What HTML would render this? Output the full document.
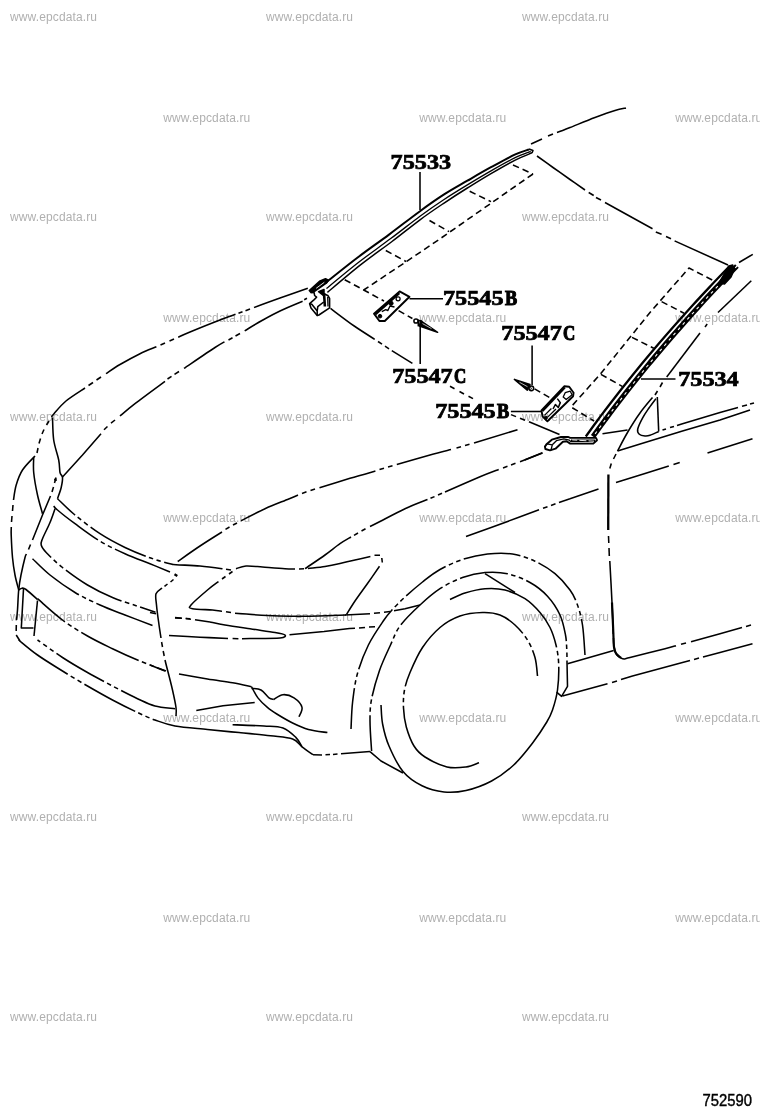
<!DOCTYPE html>
<html><head><meta charset="utf-8"><title>752590</title>
<style>
html,body{margin:0;padding:0;background:#fff;}
body{width:760px;height:1112px;overflow:hidden;position:relative;font-family:"Liberation Sans",sans-serif;}
svg{position:absolute;left:0;top:0;display:block;}
svg{filter:grayscale(1);}
.wm text{font-family:"Liberation Sans",sans-serif;font-size:12px;fill:#b0b0b0;}
.lb text{font-family:"Liberation Serif",serif;font-weight:bold;font-size:20px;fill:#000;stroke:#000;stroke-width:0.7;}
.lb text.lt{stroke-width:1.1;}
.dr path{fill:none;stroke:#000;stroke-width:1.55;stroke-linecap:butt;stroke-linejoin:round;}
.dr path.ph{stroke-dasharray:44 4 5 4;}
.dr path.p2{stroke-dasharray:50 4 5 3 5 4;}
.dr path.da{stroke-dasharray:6.5 4;}
.dr path.tk{stroke-width:2.3;}
.dr path.tn{stroke-width:1.3;}
.dr path.fw{fill:#fff;}
.dr path.fb{fill:#000;}
</style></head><body>
<svg width="760" height="1112" viewBox="0 0 760 1112">
<g class="wm">
<text x="10" y="20.9" textLength="87" lengthAdjust="spacing">www.epcdata.ru</text>
<text x="266" y="20.9" textLength="87" lengthAdjust="spacing">www.epcdata.ru</text>
<text x="522" y="20.9" textLength="87" lengthAdjust="spacing">www.epcdata.ru</text>
<text x="163.2" y="122.2" textLength="87" lengthAdjust="spacing">www.epcdata.ru</text>
<text x="419.2" y="122.2" textLength="87" lengthAdjust="spacing">www.epcdata.ru</text>
<text x="675.2" y="122.2" textLength="87" lengthAdjust="spacing">www.epcdata.ru</text>
<text x="10" y="220.9" textLength="87" lengthAdjust="spacing">www.epcdata.ru</text>
<text x="266" y="220.9" textLength="87" lengthAdjust="spacing">www.epcdata.ru</text>
<text x="522" y="220.9" textLength="87" lengthAdjust="spacing">www.epcdata.ru</text>
<text x="163.2" y="322.2" textLength="87" lengthAdjust="spacing">www.epcdata.ru</text>
<text x="419.2" y="322.2" textLength="87" lengthAdjust="spacing">www.epcdata.ru</text>
<text x="675.2" y="322.2" textLength="87" lengthAdjust="spacing">www.epcdata.ru</text>
<text x="10" y="420.9" textLength="87" lengthAdjust="spacing">www.epcdata.ru</text>
<text x="266" y="420.9" textLength="87" lengthAdjust="spacing">www.epcdata.ru</text>
<text x="522" y="420.9" textLength="87" lengthAdjust="spacing">www.epcdata.ru</text>
<text x="163.2" y="522.2" textLength="87" lengthAdjust="spacing">www.epcdata.ru</text>
<text x="419.2" y="522.2" textLength="87" lengthAdjust="spacing">www.epcdata.ru</text>
<text x="675.2" y="522.2" textLength="87" lengthAdjust="spacing">www.epcdata.ru</text>
<text x="10" y="620.9" textLength="87" lengthAdjust="spacing">www.epcdata.ru</text>
<text x="266" y="620.9" textLength="87" lengthAdjust="spacing">www.epcdata.ru</text>
<text x="522" y="620.9" textLength="87" lengthAdjust="spacing">www.epcdata.ru</text>
<text x="163.2" y="722.2" textLength="87" lengthAdjust="spacing">www.epcdata.ru</text>
<text x="419.2" y="722.2" textLength="87" lengthAdjust="spacing">www.epcdata.ru</text>
<text x="675.2" y="722.2" textLength="87" lengthAdjust="spacing">www.epcdata.ru</text>
<text x="10" y="820.9" textLength="87" lengthAdjust="spacing">www.epcdata.ru</text>
<text x="266" y="820.9" textLength="87" lengthAdjust="spacing">www.epcdata.ru</text>
<text x="522" y="820.9" textLength="87" lengthAdjust="spacing">www.epcdata.ru</text>
<text x="163.2" y="922.2" textLength="87" lengthAdjust="spacing">www.epcdata.ru</text>
<text x="419.2" y="922.2" textLength="87" lengthAdjust="spacing">www.epcdata.ru</text>
<text x="675.2" y="922.2" textLength="87" lengthAdjust="spacing">www.epcdata.ru</text>
<text x="10" y="1020.9" textLength="87" lengthAdjust="spacing">www.epcdata.ru</text>
<text x="266" y="1020.9" textLength="87" lengthAdjust="spacing">www.epcdata.ru</text>
<text x="522" y="1020.9" textLength="87" lengthAdjust="spacing">www.epcdata.ru</text>
</g>
<g class="dr">
<path style="stroke-width:2" d="M325.0,283.3C330.3,279.1 346.3,266.1 357.0,258.0C367.7,249.9 378.5,242.4 389.0,234.6C399.5,226.8 410.9,217.8 420.0,211.2C429.1,204.5 435.8,199.8 443.7,194.7C451.6,189.6 459.5,185.3 467.4,180.7C475.3,176.1 483.1,171.5 491.0,167.2C498.9,162.9 508.4,157.6 514.7,154.7C521.0,151.8 526.6,150.4 529.0,149.5"/>
<path style="stroke-width:1.5" d="M327.4,292.4C332.9,287.8 349.7,273.4 360.5,264.9C371.3,256.4 382.1,249.0 392.0,241.5C401.9,234.0 411.4,226.2 420.0,219.8C428.6,213.4 435.8,208.6 443.7,203.3C451.6,198.0 459.5,192.9 467.4,188.0C475.3,183.1 483.1,178.2 491.0,173.6C498.9,169.0 507.9,163.8 514.7,160.3C521.5,156.8 529.1,154.1 532.0,152.8"/>
<path style="stroke-width:1.3" d="M326.4,288.6C331.8,284.1 348.3,270.3 359.0,262.0C369.8,253.7 380.6,246.2 390.7,238.6C400.9,231.0 411.2,222.7 420.0,216.2C428.8,209.7 435.8,204.9 443.7,199.7C451.6,194.5 459.5,189.7 467.4,184.9C475.3,180.1 483.1,175.4 491.0,170.9C498.9,166.4 508.1,161.2 514.7,157.9C521.3,154.7 528.1,152.5 530.7,151.4"/>
<path d="M529.0,149.0L533.0,150.5L532.0,153.0"/>
<path d="M420.0,172.0L420.0,210.0"/>
<path d="M531.0,144.0L542.0,139.0"/>
<path d="M548.0,136.0L553.0,134.0"/>
<path d="M557.0,132.5C559.2,131.7 563.7,130.0 570.0,127.5C576.3,125.0 587.5,120.3 595.0,117.5C602.5,114.7 609.8,112.1 615.0,110.5C620.2,108.9 624.2,108.4 626.0,108.0"/>
<path d="M537.0,156.0C539.7,157.9 547.5,163.6 553.0,167.5C558.5,171.4 564.7,175.8 570.0,179.5C575.3,183.2 582.5,188.2 585.0,190.0"/>
<path d="M588.7,192.5L593.7,195.5"/>
<path d="M596.0,197.5L601.0,200.0"/>
<path d="M605.0,202.5L652.5,228.7"/>
<path d="M655.8,232.0L661.6,234.3"/>
<path d="M666.0,236.5L671.0,238.7"/>
<path d="M674.6,240.9L728.0,265.0"/>
<path class="da" d="M513.0,165.0L533.0,174.0"/>
<path class="da" d="M533.0,174.0L439.0,239.5L406.3,261.6L363.7,290.0"/>
<path class="da" d="M469.7,191.3L491.0,201.6"/>
<path class="da" d="M429.5,220.5L449.0,231.6"/>
<path class="da" d="M385.8,250.5L406.3,261.6"/>
<path class="da" d="M344.7,279.7L363.7,290.0L384.0,301.0"/>
<path style="stroke-width:2.3" d="M729.7,266.0C726.6,269.2 717.6,278.5 711.5,285.0C705.4,291.5 699.0,298.3 692.9,305.0C686.8,311.7 680.9,318.3 675.0,325.0C669.1,331.7 663.3,338.3 657.6,345.0C651.9,351.7 646.3,358.3 640.8,365.0C635.3,371.7 630.0,378.3 624.7,385.0C619.4,391.7 613.6,399.2 609.1,405.0C604.6,410.8 601.7,414.8 597.8,420.0C593.9,425.2 587.8,433.8 585.8,436.5"/>
<path style="stroke-width:5.1" d="M736.9,266.0C733.8,269.2 724.8,278.5 718.7,285.0C712.6,291.5 706.2,298.3 700.1,305.0C694.0,311.7 688.1,318.3 682.2,325.0C676.3,331.7 670.5,338.3 664.8,345.0C659.1,351.7 653.5,358.3 648.0,365.0C642.5,371.7 637.2,378.3 631.9,385.0C626.6,391.7 620.8,399.2 616.3,405.0C611.8,410.8 608.9,414.8 605.0,420.0C601.1,425.2 595.0,433.8 593.0,436.5"/>
<path style="stroke:#fff;stroke-width:1.1;stroke-dasharray:3 4" d="M737.1,266.0C734.0,269.2 725.0,278.5 718.9,285.0C712.8,291.5 706.4,298.3 700.3,305.0C694.2,311.7 688.3,318.3 682.4,325.0C676.5,331.7 670.7,338.3 665.0,345.0C659.3,351.7 653.7,358.3 648.2,365.0C642.7,371.7 637.4,378.3 632.1,385.0C626.8,391.7 621.0,399.2 616.5,405.0C612.0,410.8 609.1,414.8 605.2,420.0C601.3,425.2 595.2,433.8 593.2,436.5"/>
<path class="fb" d="M729.0,266.0L732.7,265.0L734.0,270.0L731.0,277.0L724.5,284.0L719.0,283.0Z"/>
<path d="M641.0,379.0L675.5,379.0"/>
<path class="da" d="M712.2,280.0L689.0,268.0L650.0,312.5L600.6,373.8L571.0,407.0L594.0,421.0"/>
<path class="da" d="M661.6,301.6L684.0,313.2"/>
<path class="da" d="M632.0,337.4L653.7,348.2"/>
<path class="da" d="M600.9,374.3L622.6,386.6"/>
<path style="stroke-width:1.9;fill:#fff" d="M544.9,446.6L546.8,443.9L551.8,439.7L561,437L568.4,437L570.2,437.9L596,437.9L597,440.2L593.3,443.6L570.2,443.6L566.6,441.3L562.9,441.8L555.5,448.7L550,450.4L545.4,449Z"/>
<path class="tn" d="M546.8,443.9L552.3,444.8L551.0,450.0"/>
<path class="tn" d="M552.3,444.8L556.4,440.7L563.8,438.8L569.3,440.2L571.0,441.8"/>
<path style="stroke-width:2.6" d="M571,440.8L595,440.8"/>
<path style="stroke:#fff;stroke-width:0.9;stroke-dasharray:5 2.2 7 2.2 6 20" d="M572.2,439.9L594,441.2"/>
<path d="M739.0,262.5L752.8,254.3"/>
<path d="M751.3,280.7L718.0,312.5"/>
<path d="M707.2,324.0L705.0,327.0"/>
<path d="M700.0,333.0L666.7,377.0"/>
<path d="M662.5,382.5L660.0,387.0"/>
<path d="M657.5,391.0L655.0,395.0"/>
<path d="M652.5,397.5C650.4,400.1 644.2,407.2 640.0,413.0C635.8,418.8 631.2,426.2 627.5,432.5C623.8,438.8 619.2,447.9 617.5,451.0"/>
<path d="M616.0,454.0L613.5,459.0"/>
<path d="M611.3,463.5L609.8,468.5"/>
<path class="tk" d="M608.4,474.5L608.2,530.0"/>
<path d="M608.5,536.0L608.8,543.0"/>
<path d="M609.0,548.0L609.3,556.0"/>
<path d="M609.8,561.0C610.2,567.9 611.5,591.8 612.0,602.5C612.5,613.2 612.8,621.2 613.0,625.0"/>
<path d="M613.1,629.0L613.3,634.0"/>
<path style="stroke-width:2.2" d="M612.0,602.5C612.2,606.2 612.7,618.8 613.0,625.0C613.3,631.2 613.4,636.3 613.6,640.0C613.8,643.7 613.6,644.7 614.0,647.0C614.4,649.3 615.0,651.9 616.2,653.7C617.4,655.5 620.2,657.1 621.0,657.8"/>
<path d="M613.5,638.0C613.5,639.2 613.4,642.4 613.8,645.0C614.2,647.6 614.5,651.4 616.0,653.7C617.5,656.0 620.2,658.1 622.5,658.7C624.8,659.3 622.9,659.2 630.0,657.5C637.1,655.8 657.3,650.7 665.0,648.7C672.7,646.7 674.2,646.2 676.0,645.7"/>
<path d="M681.0,644.3L686.0,643.0"/>
<path d="M691.0,641.7L720.0,633.7L742.0,627.6"/>
<path d="M746.0,626.4L751.0,625.0"/>
<path d="M657.3,397.0L658.7,431.5"/>
<path d="M658.7,431.5C657.2,432.1 652.3,434.6 650.0,435.3C647.7,436.1 646.8,436.2 645.0,436.0C643.2,435.8 640.5,435.4 639.3,434.3C638.1,433.2 637.1,432.0 637.7,429.2C638.3,426.4 640.9,421.1 642.8,417.6C644.7,414.1 646.8,411.2 649.0,408.0C651.2,404.8 654.8,400.2 656.0,398.6"/>
<path d="M617.5,451.0L645.0,442.5L682.5,431.0L720.0,420.0L750.0,410.0"/>
<path d="M662.5,430.0L666.0,428.9"/>
<path d="M670.0,427.6L674.0,426.4"/>
<path d="M677.0,425.5L682.5,423.7L720.0,412.5L738.0,407.5"/>
<path d="M742.0,406.3L747.0,404.9"/>
<path d="M750.0,404.0L754.0,403.0"/>
<path d="M602.5,433.7L627.5,430.0"/>
<path d="M524.7,460.0L542.4,452.8"/>
<path d="M570.0,498.8L598.5,489.0"/>
<path d="M616.0,482.6L645.0,473.5L668.8,466.0"/>
<path d="M673.5,464.4L679.7,462.4"/>
<path d="M707.5,453.0L752.5,438.7"/>
<path d="M567.5,663.7L613.7,650.5"/>
<path d="M562.5,696.0L607.5,683.7"/>
<path d="M612.0,682.4L617.0,681.0"/>
<path d="M621.0,679.5L632.5,676.0L682.5,662.5L690.0,660.5"/>
<path d="M694.0,659.4L699.0,658.0"/>
<path d="M703.0,657.0L720.0,652.5L752.5,643.7"/>
<path class="fb" d="M309.3,290.6L319.5,281.3L325.5,278.8L328.3,280.3L326.3,283.2L314.2,291.5L311.0,292.6Z"/>
<path style="stroke:#fff;stroke-width:0.9" d="M316.2,288.3L324.3,282.3"/>
<path d="M311.0,292.5L314.2,292.8L314.6,295.5L316.6,297.2L314.2,299.6L309.6,303.7L311.0,307.9L317.2,315.6L318.9,315.0L329.6,307.9L329.6,298.4L327.8,295.5L323.7,293.7"/>
<path d="M309.6,303.7L311.8,304.3L317.2,310.9L317.2,315.6"/>
<path d="M317.2,310.9L317.8,306.7L323.7,302.0"/>
<path style="stroke-width:2.6" d="M324,293L324.9,306.5"/>
<path class="tn" d="M327.7,297.0L328.0,306.5"/>
<path class="fb" d="M318.6,291.6L324.0,296.0L324.0,289.5Z"/>
<path style="stroke-width:1.9" d="M374,313.6L399.6,291.4L409.5,296.8L384.8,321L379.4,321Z"/>
<path style="stroke-width:2.4" d="M375.3,314.3L399.3,293"/>
<circle cx="398.1" cy="298.8" r="2" style="fill:none;stroke:#000;stroke-width:1.3"/>
<circle cx="391" cy="303.3" r="2.1" style="fill:#000;stroke:#000;stroke-width:1"/>
<path class="tn" d="M381.8,311.6L385.8,309.6L387.8,310.6L390.0,306.0L394.5,307.0"/>
<circle cx="380" cy="316.2" r="1.8" style="fill:#000;stroke:#000;stroke-width:1"/>
<path d="M409.5,298.8L443.0,298.8"/>
<path class="da" d="M398.6,310.6L412.4,318.5"/>
<circle cx="416" cy="321" r="2.1" style="fill:#fff;stroke:#000;stroke-width:1.5"/>
<path d="M418.3,320.3L421.5,321.3L421.3,325.3L418.3,325.8Z"/>
<path class="fb" d="M420.5,320.6L437.6,332.3L419.5,326.0Z"/>
<path style="stroke:#fff;stroke-width:0.7" d="M422.5,323.6L431.5,328.6"/>
<path d="M420.2,326.0L420.2,364.0"/>
<path class="fb" d="M514.4,379.4L530.0,384.6L527.3,390.2Z"/>
<path style="stroke:#fff;stroke-width:0.7" d="M519.5,382.3L527.5,386.7"/>
<circle cx="531.3" cy="388.3" r="2.4" style="fill:#fff;stroke:#000;stroke-width:1.5"/>
<circle cx="530.6" cy="388.5" r="0.9" style="fill:none;stroke:#000;stroke-width:0.8"/>
<path d="M532.1,345.5L532.1,385.2"/>
<path class="da" d="M534.6,388.8L551.4,398.6"/>
<path style="stroke-width:1.9" d="M541.5,410.5L564.2,386.3L569.2,386.8L573.6,392.7L573.1,396.2L547.4,421.3L542.5,416.4Z"/>
<path style="stroke-width:2.2" d="M542.5,411L564.8,387.5"/>
<path class="tn" d="M565.2,392.7L570.2,391.2L572.1,394.7L566.2,399.6L563.2,397.1Z"/>
<path d="M557.3,398.6L560.3,402.6L558.3,407.5L555.4,404.5L553.0,409.0"/>
<path class="tn" d="M544.5,415.4L551.4,408.5"/>
<path class="tn" d="M547.4,417.4L556.0,409.0"/>
<circle cx="545.8" cy="417.8" r="1.6" style="fill:#000;stroke:#000;stroke-width:1"/>
<path d="M510.9,411.5L541.5,411.5"/>
<path d="M330.5,308.4C334.4,311.3 346.8,320.9 354.2,326.0C361.6,331.1 371.3,337.1 374.7,339.3"/>
<path d="M378.0,341.5L382.0,344.2"/>
<path d="M385.0,346.2L389.0,348.8"/>
<path d="M391.8,350.6L412.4,363.3"/>
<path d="M450.0,386.3L454.5,388.7"/>
<path d="M459.5,391.5L464.0,394.0"/>
<path d="M468.5,396.3L473.0,398.6"/>
<path d="M511.0,414.6L516.0,416.6"/>
<path d="M520.0,418.2L525.0,420.2"/>
<path d="M529.0,421.8L559.5,434.5"/>
<path d="M307.8,288.2C303.2,289.8 289.0,294.8 280.0,298.0C271.0,301.2 258.3,305.9 254.0,307.5"/>
<path d="M250.0,309.0L245.5,310.7"/>
<path d="M242.5,311.8L238.5,313.3"/>
<path d="M235.5,314.3C232.9,315.2 227.6,317.1 220.0,320.0C212.4,322.9 197.0,329.1 190.0,332.0C183.0,334.9 180.2,336.3 178.2,337.2"/>
<path d="M174.0,339.0L169.5,341.0"/>
<path d="M165.0,343.0L160.5,345.0"/>
<path d="M156.4,346.7C153.7,347.9 146.1,350.7 140.0,353.7C133.9,356.7 125.7,361.2 120.0,364.5C114.3,367.8 108.3,372.2 106.0,373.7"/>
<path d="M101.0,377.0L96.5,380.0"/>
<path d="M93.0,382.5L88.5,385.5"/>
<path d="M85.0,388.0C81.8,390.2 71.2,396.7 66.0,401.0C60.8,405.3 56.4,411.0 54.0,413.7C51.6,416.4 51.9,416.4 51.5,417.0"/>
<path d="M49.0,421.0L46.5,425.0"/>
<path d="M44.0,429.5L42.0,434.0"/>
<path d="M40.5,438.5L39.0,443.5"/>
<path d="M38.0,448.0L37.0,453.0"/>
<path d="M307.0,298.3L304.2,299.7"/>
<path d="M302.6,301.3C298.8,302.9 286.8,307.8 280.0,311.0C273.2,314.2 267.9,317.2 262.0,320.5C256.1,323.8 247.6,329.1 244.7,330.8"/>
<path d="M240.0,333.5L235.5,336.0"/>
<path d="M232.5,337.8L228.5,340.0"/>
<path d="M224.5,341.8C222.9,342.8 221.8,343.1 215.0,347.5C208.2,351.9 189.2,364.9 184.0,368.4"/>
<path d="M179.0,371.5L174.5,374.3"/>
<path d="M171.5,376.3L167.5,379.0"/>
<path d="M165.0,381.4C160.0,385.1 142.5,397.9 135.0,403.7C127.5,409.5 122.5,413.9 120.0,416.0"/>
<path d="M115.0,420.0L111.0,423.2"/>
<path d="M107.5,426.5L104.0,429.8"/>
<path d="M101.0,433.7L82.5,455.0L62.5,477.0"/>
<path d="M52.5,417.5C52.7,421.2 52.7,432.9 53.7,440.0C54.7,447.1 57.7,454.6 58.7,460.0C59.8,465.4 59.4,469.6 60.0,472.5C60.6,475.4 62.3,475.0 62.5,477.5C62.7,480.0 62.0,484.0 61.2,487.5C60.4,491.0 58.1,496.8 57.5,498.7"/>
<path class="tk" d="M55.0,478.5L56.0,481.0"/>
<path d="M35.0,456.0C32.9,458.3 25.6,465.2 22.5,470.0C19.4,474.8 17.7,480.0 16.2,485.0C14.7,490.0 13.9,497.5 13.5,500.0"/>
<path d="M13.0,505.0L12.5,511.0"/>
<path d="M12.0,516.0L11.5,522.0"/>
<path d="M11.3,527.0C11.3,528.3 11.0,529.9 11.2,535.0C11.4,540.1 11.9,550.8 12.5,557.5C13.1,564.2 14.0,569.6 15.0,575.0C16.0,580.4 18.1,587.5 18.7,590.0"/>
<path d="M33.7,457.5C33.7,460.0 33.1,466.2 33.7,472.5C34.3,478.8 36.0,488.1 37.5,495.0C39.0,501.9 41.7,510.6 42.5,513.7"/>
<path d="M56.0,477.5L54.5,483.0"/>
<path d="M53.5,487.0L52.0,492.0"/>
<path d="M50.5,496.0L42.5,515.0L32.5,540.0"/>
<path d="M30.5,544.5L28.5,549.5"/>
<path d="M26.5,554.0C26.2,554.6 25.9,554.0 25.0,557.5C24.1,561.0 22.1,569.6 21.0,575.0C19.9,580.4 19.3,584.2 18.7,590.0C18.1,595.8 17.9,605.0 17.5,610.0C17.1,615.0 16.7,618.3 16.5,620.0"/>
<path d="M16.3,625.0L16.2,631.0"/>
<path d="M16.2,635.0L20.0,641.0"/>
<path stroke-dasharray="24.1 3.5 4.5 3.5 4.5 3.5 62.4 3.5 4.5 3.5 4.5 3.5 108.9 0.0" d="M57.5,498.7C60.4,501.4 67.9,509.2 75.0,515.0C82.1,520.8 91.7,528.3 100.0,533.7C108.3,539.1 116.7,543.5 125.0,547.5C133.3,551.5 142.5,555.1 150.0,557.8C157.5,560.5 165.7,562.6 170.0,563.7C174.3,564.9 171.0,564.3 176.0,564.7C181.0,565.1 192.2,565.3 200.0,566.0C207.8,566.7 218.8,568.2 222.5,568.7"/>
<path stroke-dasharray="55.7 3.5 4.5 3.5 4.5 3.5 109.6 0.0" d="M53.7,506.0C54.3,506.7 54.0,507.1 57.5,510.0C61.0,513.0 67.9,518.5 75.0,523.7C82.1,528.9 91.7,536.2 100.0,541.2C108.3,546.2 116.7,550.0 125.0,553.7C133.3,557.5 142.5,560.7 150.0,563.7C157.5,566.8 166.7,570.6 170.0,572.0"/>
<path class="tk" d="M174.5,574.3L177.3,576.0"/>
<path stroke-dasharray="55.3 3.5 4.5 3.5 4.5 3.5 63.7 3.5 4.5 3.5 4.5 3.5 66.4 0.0" d="M55.0,508.7C54.2,511.0 52.1,517.5 50.0,522.5C47.9,527.5 44.0,535.0 42.5,538.7C41.0,542.5 40.6,542.7 41.2,545.0C41.8,547.3 42.7,548.8 46.2,552.5C49.8,556.2 55.6,562.1 62.5,567.5C69.4,572.9 79.2,580.0 87.5,585.0C95.8,590.0 104.2,594.0 112.5,597.5C120.8,601.0 130.3,603.7 137.5,606.2C144.7,608.7 152.5,611.3 155.5,612.3"/>
<path stroke-dasharray="58.9 3.5 4.5 3.5 4.5 3.5 110.4 0.0" d="M32.5,558.7C35.4,561.4 42.9,569.4 50.0,575.0C57.1,580.6 66.7,587.5 75.0,592.5C83.3,597.5 91.7,601.2 100.0,605.0C108.3,608.8 116.2,611.6 125.0,615.0C133.8,618.4 147.9,623.8 152.5,625.5"/>
<path d="M173.5,579.5L170.5,582.0"/>
<path d="M167.5,584.0L164.5,586.3"/>
<path d="M162.0,588.0C161.0,589.0 156.9,590.9 156.0,593.7C155.1,596.5 156.1,600.2 156.5,605.0C156.9,609.8 157.9,617.0 158.7,622.5C159.4,628.0 160.6,635.4 161.0,638.0"/>
<path d="M161.6,642.0L162.5,647.0"/>
<path d="M163.2,651.0L164.2,656.0"/>
<path d="M165.0,660.0C165.4,661.7 166.2,665.0 167.5,670.0C168.8,675.0 171.1,683.8 172.5,690.0C173.9,696.2 175.4,703.2 176.0,707.5C176.6,711.8 176.0,714.6 176.0,716.0"/>
<path d="M177.7,561.5C181.4,558.9 192.6,550.9 200.0,546.0C207.4,541.1 218.3,534.3 222.0,532.0"/>
<path d="M225.5,529.3L229.5,527.0"/>
<path d="M233.0,525.0L237.0,523.0"/>
<path d="M241.0,520.8C245.0,518.8 257.1,512.3 265.0,508.7C272.9,505.1 283.2,501.3 288.7,499.0C294.2,496.7 296.4,495.7 298.0,495.0"/>
<path d="M302.0,493.4L306.5,491.8"/>
<path d="M310.5,490.5L315.0,489.0"/>
<path d="M319.5,487.8C324.6,486.2 340.7,481.1 350.0,478.3C359.3,475.5 371.2,472.2 375.4,471.0"/>
<path d="M379.5,469.6L384.0,468.2"/>
<path d="M388.0,467.0L392.5,465.7"/>
<path d="M396.8,464.4C402.3,462.8 421.0,457.5 430.0,455.0C439.0,452.5 447.5,450.5 451.0,449.6"/>
<path d="M456.5,448.0L461.0,446.8"/>
<path d="M465.0,445.6L469.5,444.3"/>
<path d="M474.0,443.0L517.5,429.7"/>
<path d="M18.7,590.0C19.2,589.7 20.8,588.3 22.0,588.2C23.2,588.1 23.4,587.6 26.0,589.5C28.6,591.4 35.6,597.8 37.5,599.5"/>
<path d="M23.5,589.0L21.3,628.0L33.5,628.0"/>
<path d="M37.5,600.5L34.0,636.0"/>
<path stroke-dasharray="35.8 3.5 4.5 3.5 4.5 3.5 64.1 3.5 4.5 3.5 4.5 3.5 59.7 0.0" d="M37.5,598.7C41.7,602.2 54.2,613.8 62.5,620.0C70.8,626.2 79.2,631.2 87.5,636.0C95.8,640.8 104.2,644.7 112.5,648.7C120.8,652.7 128.6,656.3 137.5,660.0C146.4,663.7 161.2,669.2 166.0,671.0"/>
<path stroke-dasharray="3.7 3.5 4.5 3.5 4.5 3.5 55.2 3.5 4.5 3.5 4.5 3.5 107.5 0.0" d="M37.5,640.0C41.7,642.9 54.2,652.1 62.5,657.5C70.8,662.9 79.2,667.8 87.5,672.5C95.8,677.2 104.2,681.6 112.5,686.0C120.8,690.4 130.4,695.4 137.5,698.7C144.6,702.0 148.8,704.3 155.0,706.0C161.2,707.7 171.7,708.2 175.0,708.7"/>
<path stroke-dasharray="59.8 3.5 4.5 3.5 4.5 3.5 57.4 3.5 4.5 3.5 4.5 3.5 217.6 0.0" d="M18.7,640.0C21.8,642.5 30.2,649.8 37.5,655.0C44.8,660.2 54.2,665.8 62.5,671.0C70.8,676.2 79.2,681.2 87.5,686.0C95.8,690.8 104.2,695.6 112.5,700.0C120.8,704.4 130.4,709.2 137.5,712.5C144.6,715.8 148.8,717.8 155.0,720.0C161.2,722.2 166.3,724.4 175.0,726.0C183.7,727.6 196.7,728.4 207.4,729.5C218.1,730.6 228.5,731.6 239.0,732.6C249.5,733.6 261.6,734.7 270.5,735.8C279.4,736.9 287.4,737.2 292.6,739.0C297.9,740.8 298.6,744.2 302.0,746.8C305.4,749.4 311.2,753.4 313.0,754.7"/>
<path d="M313.0,754.7L322.0,754.9"/>
<path d="M325.5,754.8L330.0,754.6"/>
<path d="M333.0,754.4L337.5,754.1"/>
<path d="M341.0,753.8L370.0,751.6"/>
<path class="da" d="M175.0,618.0L190.0,618.7"/>
<path d="M169.0,635.5C174.2,635.8 190.2,636.7 200.0,637.2C209.8,637.7 223.3,638.2 228.0,638.4"/>
<path d="M232.6,638.5L238.4,638.7"/>
<path d="M242.0,638.7C243.3,638.7 243.7,638.7 250.0,638.6C256.3,638.5 274.2,638.6 280.0,638.0C285.8,637.4 285.8,635.9 285.0,635.0C284.2,634.1 280.8,633.5 275.0,632.5C269.2,631.5 258.3,630.0 250.0,628.7C241.7,627.5 231.7,626.1 225.0,625.0C218.3,623.9 212.5,622.5 210.0,622.0"/>
<path d="M175.0,617.5L182.0,618.2"/>
<path d="M186.0,618.6L191.0,619.2"/>
<path d="M195.0,619.7L210.0,622.0"/>
<path d="M150.0,612.5L156.0,613.7"/>
<path d="M150.0,665.0L165.0,671.0"/>
<path d="M236.0,568.7C237.7,568.2 241.6,566.3 246.0,566.0C250.4,565.7 256.0,566.5 262.5,567.0C269.0,567.5 279.6,568.4 285.0,568.7C290.4,569.0 293.3,568.9 295.0,568.9"/>
<path d="M299.0,568.9L304.0,568.8"/>
<path d="M308.0,568.6C310.8,568.2 319.7,567.4 325.0,566.5C330.3,565.6 335.0,564.6 340.0,563.5C345.0,562.4 349.9,561.1 355.0,560.0C360.1,558.9 367.8,557.2 370.4,556.6"/>
<path d="M374.5,555.3L380.0,555.2"/>
<path d="M381.8,558.0L382.3,562.5"/>
<path d="M226.0,569.3L231.0,570.0"/>
<path d="M232.5,571.5L229.0,574.0"/>
<path d="M225.5,576.5L222.0,579.0"/>
<path d="M218.5,581.6C216.7,583.0 212.1,586.1 207.5,590.0C202.9,593.9 193.5,601.9 191.0,605.0C188.5,608.1 188.9,607.9 192.5,608.7C196.1,609.5 207.6,609.6 212.5,610.0C217.4,610.4 220.4,611.1 222.0,611.3"/>
<path d="M226.0,611.8L231.0,612.6"/>
<path d="M235.0,613.3C240.4,613.7 258.3,615.0 267.5,615.5C276.7,616.0 282.9,616.2 290.0,616.3C297.1,616.4 300.7,616.4 310.0,616.2C319.3,616.0 340.0,615.2 346.0,615.0"/>
<path d="M379.5,566.3C377.5,569.2 371.6,577.7 367.5,583.5C363.4,589.3 358.5,595.8 355.0,601.0C351.5,606.2 347.9,612.2 346.5,614.5"/>
<path d="M305.0,568.7C308.3,566.4 319.2,559.2 325.0,555.0C330.8,550.8 335.7,546.7 340.0,543.7C344.3,540.7 349.2,538.1 351.0,537.0"/>
<path d="M354.0,535.3L358.0,533.0"/>
<path d="M361.5,531.0L365.5,528.8"/>
<path d="M370.0,526.5C371.7,525.7 374.2,524.5 380.0,521.5C385.8,518.5 397.1,512.4 405.0,508.7C412.9,505.0 423.8,501.0 427.5,499.5"/>
<path d="M430.5,498.3L434.5,496.6"/>
<path d="M438.0,495.0L442.0,493.3"/>
<path d="M445.0,492.0C450.8,489.5 471.1,480.6 480.0,476.8C488.9,473.1 495.6,470.7 498.7,469.5"/>
<path d="M503.0,468.0L507.5,466.3"/>
<path d="M511.0,465.0L515.5,463.3"/>
<path d="M520.0,461.7L542.5,453.0"/>
<path d="M345.0,615.0L370.0,613.7"/>
<path d="M374.0,613.3L380.0,612.7"/>
<path d="M384.0,612.2L390.0,611.5"/>
<path d="M394.0,610.7L405.0,608.7L420.0,605.0"/>
<path d="M289.5,634.7L324.0,631.6L349.5,628.4L355.0,628.2"/>
<path d="M359.0,627.9L365.0,627.4"/>
<path d="M369.0,627.0L375.0,626.8"/>
<path d="M179.0,674.0C183.7,674.8 198.5,677.5 207.4,679.0C216.3,680.5 225.2,681.4 232.6,682.7C240.0,684.0 248.4,686.1 251.6,686.8"/>
<path d="M251.6,686.8C252.6,688.6 255.3,694.5 257.9,697.9C260.5,701.3 264.2,704.7 267.4,707.4C270.5,710.1 272.6,711.4 276.8,714.0C281.0,716.6 287.3,720.4 292.6,723.0C297.9,725.6 302.6,727.9 308.4,729.5C314.2,731.1 324.2,732.1 327.4,732.6"/>
<path d="M273.7,699.5C275.2,698.7 279.6,695.0 283.0,694.7C286.4,694.4 290.8,695.8 294.0,697.9C297.2,700.0 301.2,704.2 302.0,707.4C302.8,710.5 299.5,715.2 299.0,716.8"/>
<path d="M251.6,688.4C253.2,688.7 258.1,688.4 261.0,690.0C263.9,691.6 266.9,696.3 269.0,697.9C271.1,699.5 272.9,699.2 273.7,699.5"/>
<path d="M196.3,710.5L223.0,705.8L254.7,702.6"/>
<path d="M232.6,724.7C237.8,724.9 255.6,725.5 264.0,726.0C272.4,726.5 277.7,726.1 283.0,728.0C288.3,729.9 292.6,734.3 295.8,737.4C299.0,740.5 301.0,745.2 302.0,746.8"/>
<path d="M370.0,751.6L381.0,761.0L403.0,773.0"/>
<path d="M466.0,536.5L492.5,527.0L517.5,517.8L539.0,509.8"/>
<path d="M543.0,508.3L547.5,506.7"/>
<path d="M551.0,505.4L555.5,503.8"/>
<path d="M559.0,502.5L570.0,498.8"/>
<path stroke-dasharray="41.1 3.5 4.5 3.5 4.5 3.5 68.9 3.5 4.5 3.5 4.5 3.5 49.3 3.5 4.5 3.5 4.5 3.5 57.4 3.5 4.5 3.5 4.5 3.5 53.7 3.5 4.5 3.5 4.5 3.5 86.4 0.0" d="M351.0,729.0C351.3,724.5 351.5,711.2 352.6,702.0C353.7,692.8 354.8,683.2 357.4,673.7C360.0,664.2 364.0,654.0 368.4,645.0C372.8,636.0 380.0,625.9 384.0,620.0C388.0,614.1 389.0,613.3 392.5,609.5C396.0,605.7 400.0,601.6 405.0,597.0C410.0,592.4 416.7,586.6 422.5,582.0C428.3,577.4 433.3,573.2 440.0,569.5C446.7,565.8 454.6,562.1 462.5,559.5C470.4,556.9 479.2,554.9 487.5,554.0C495.8,553.1 504.6,552.8 512.5,554.0C520.4,555.2 527.9,557.9 535.0,561.2C542.1,564.5 549.2,568.9 555.0,573.7C560.8,578.5 566.2,584.8 570.0,590.0C573.8,595.2 575.4,599.2 577.5,605.0C579.6,610.8 581.2,616.7 582.5,625.0C583.8,633.3 584.6,650.0 585.0,655.0"/>
<path stroke-dasharray="35.7 3.5 4.5 3.5 4.5 3.5 57.7 3.5 4.5 3.5 4.5 3.5 56.3 3.5 4.5 3.5 4.5 3.5 48.7 3.5 4.5 3.5 4.5 3.5 76.1 3.5 4.5 3.5 4.5 3.5 51.7 0.0" d="M371.6,751.0C371.3,746.0 370.0,729.7 370.0,721.0C370.0,712.3 370.0,707.4 371.6,699.0C373.2,690.6 376.4,679.5 379.5,670.5C382.6,661.5 387.1,652.4 390.5,645.0C393.9,637.6 395.1,632.7 400.0,626.0C404.9,619.3 413.3,611.2 420.0,605.0C426.7,598.8 432.9,593.3 440.0,588.7C447.1,584.1 455.0,580.2 462.5,577.5C470.0,574.8 477.5,573.1 485.0,572.5C492.5,571.9 500.0,572.0 507.5,573.7C515.0,575.4 523.3,578.8 530.0,582.5C536.7,586.2 542.5,590.8 547.5,596.2C552.5,601.6 557.0,608.5 560.0,615.0C563.0,621.5 564.4,629.2 565.5,635.0C566.6,640.8 566.5,645.5 566.8,650.0C567.0,654.5 567.0,660.0 567.0,662.0"/>
<path d="M567.0,662.0L567.5,686.3L561.6,696.4L556.6,692.2"/>
<path stroke-dasharray="138.4 3.5 4.5 3.5 4.5 3.5 356.7 0.0" d="M450.0,599.5C452.5,598.4 459.2,594.8 465.0,593.0C470.8,591.2 478.3,589.2 485.0,588.7C491.7,588.2 498.3,588.3 505.0,590.0C511.7,591.7 519.2,595.0 525.0,598.7C530.8,602.5 535.8,607.7 540.0,612.5C544.2,617.3 547.3,622.1 550.0,627.5C552.7,632.9 554.5,638.8 556.0,645.0C557.5,651.2 558.5,657.5 558.7,665.0C559.0,672.5 558.5,682.5 557.5,690.0C556.5,697.5 554.3,704.7 552.5,710.0C550.7,715.3 550.1,716.5 546.8,722.0C543.5,727.5 538.1,735.8 532.6,743.0C527.1,750.2 520.5,758.7 513.7,765.0C506.9,771.3 499.6,776.8 491.6,781.0C483.7,785.2 473.9,788.7 466.0,790.5C458.1,792.3 451.3,792.8 444.0,792.0C436.7,791.2 428.8,789.2 422.0,785.8C415.2,782.4 408.5,778.1 403.0,771.5C397.5,764.9 392.4,753.9 389.0,746.0C385.6,738.1 383.9,730.8 382.6,724.0C381.3,717.2 381.3,708.2 381.0,705.0"/>
<path d="M485.0,573.7L515.0,592.5"/>
<path stroke-dasharray="26.4 3.5 4.5 3.5 4.5 3.5 162.7 3.5 4.5 3.5 4.5 3.5 165.0 0.0" d="M537.5,676.0C537.1,672.9 536.7,663.5 535.0,657.5C533.3,651.5 530.8,645.4 527.5,640.0C524.2,634.6 519.6,629.2 515.0,625.0C510.4,620.8 505.4,617.1 500.0,615.0C494.6,612.9 489.2,612.3 482.5,612.5C475.8,612.7 467.1,613.5 460.0,616.0C452.9,618.5 446.2,622.2 440.0,627.5C433.8,632.8 427.5,640.0 422.5,647.5C417.5,655.0 413.0,665.4 410.0,672.5C407.0,679.6 405.6,684.1 404.5,690.0C403.4,695.9 403.2,701.8 403.5,708.0C403.8,714.2 404.6,720.7 406.3,727.0C408.1,733.3 410.9,741.0 414.0,746.0C417.1,751.0 419.5,753.5 425.0,757.0C430.5,760.5 440.2,765.3 447.0,767.0C453.8,768.7 460.7,767.7 466.0,767.0C471.3,766.3 476.8,763.4 479.0,762.7"/>
</g>
<g class="lb">
<text x="390.6" y="168.8" textLength="60.5" lengthAdjust="spacingAndGlyphs">75533</text>
<text x="443" y="304.7" textLength="60.5" lengthAdjust="spacingAndGlyphs">75545</text>
<text class="lt" x="504.9" y="304.7" textLength="12.2" lengthAdjust="spacingAndGlyphs">B</text>
<text x="392.2" y="383.2" textLength="60.5" lengthAdjust="spacingAndGlyphs">75547</text>
<text class="lt" x="454.0" y="383.2" textLength="12.2" lengthAdjust="spacingAndGlyphs">C</text>
<text x="501.3" y="339.7" textLength="60.5" lengthAdjust="spacingAndGlyphs">75547</text>
<text class="lt" x="563.1" y="339.7" textLength="12.2" lengthAdjust="spacingAndGlyphs">C</text>
<text x="678.2" y="385.9" textLength="60.5" lengthAdjust="spacingAndGlyphs">75534</text>
<text x="435.2" y="418.2" textLength="60.5" lengthAdjust="spacingAndGlyphs">75545</text>
<text class="lt" x="497.0" y="418.2" textLength="12.2" lengthAdjust="spacingAndGlyphs">B</text>
</g>
<text x="702.5" y="1105.6" textLength="49.5" lengthAdjust="spacingAndGlyphs" style="font-family:'Liberation Sans',sans-serif;font-size:16px;fill:#000;stroke:#000;stroke-width:0.4">752590</text>
</svg>
</body></html>
